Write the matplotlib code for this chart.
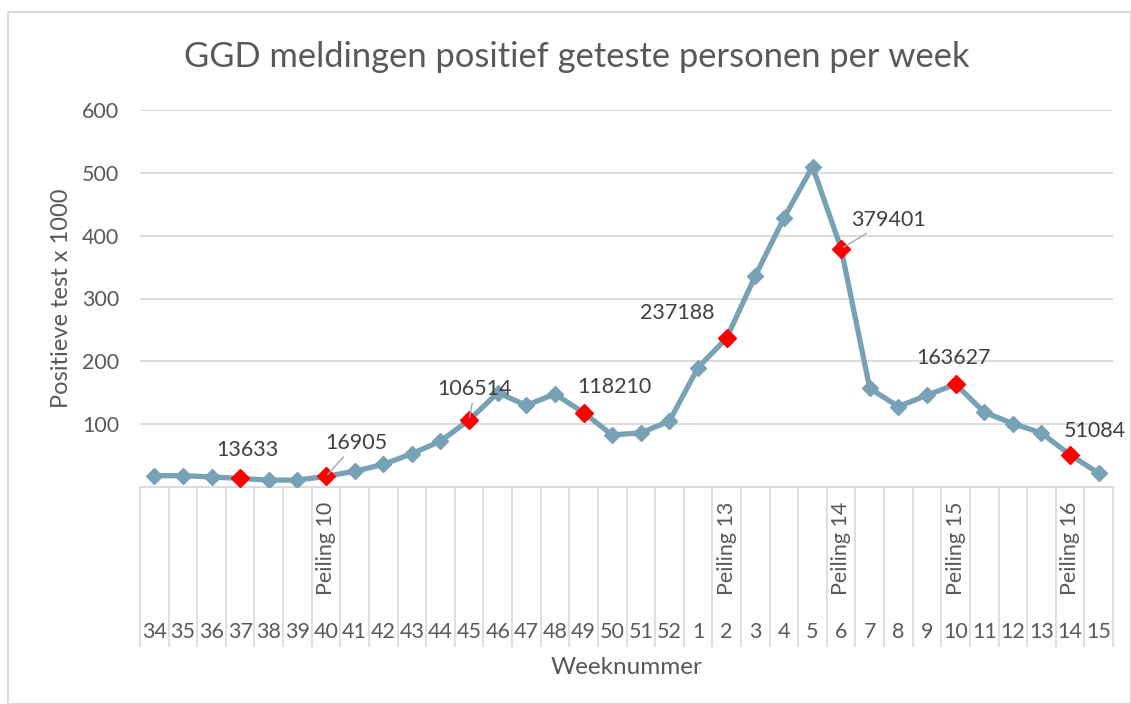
import matplotlib
matplotlib.use("Agg")
import matplotlib.pyplot as plt
from matplotlib.patches import Rectangle

# Week numbers (category axis, bottom level)
weeks = ["34", "35", "36", "37", "38", "39", "40", "41", "42", "43", "44", "45",
         "46", "47", "48", "49", "50", "51", "52", "1", "2", "3", "4", "5", "6",
         "7", "8", "9", "10", "11", "12", "13", "14", "15"]

# Positive tests x 1000
values = [18, 18, 16, 13.633, 11, 11, 16.905, 25, 36, 53, 73, 106.514,
          150, 130, 148, 118.210, 83, 86, 105, 190, 237.188, 336, 428, 510,
          379.401, 157, 128, 146, 163.627, 119, 101, 86, 51.084, 22]

# Highlighted points (index -> label)
highlight_idx = [3, 6, 11, 15, 20, 24, 28, 32]
highlight_lbl = ["13633", "16905", "106514", "118210", "237188", "379401", "163627", "51084"]
# label positions (data coords) and whether a leader line is drawn
label_pos = [(3.27, 59), (7.05, 70), (11.2, 156), (16.07, 159), (18.26, 277),
             (25.67, 425), (27.94, 205), (32.88, 89)]
leader = [False, True, True, False, False, True, False, False]

# Survey markers on upper category level
peiling_idx = [6, 20, 24, 28, 32]
peiling_lbl = ["Peiling 10", "Peiling 13", "Peiling 14", "Peiling 15", "Peiling 16"]

FONT = "Lato"
plt.rcParams["font.family"] = [FONT, "DejaVu Sans"]

line_col = "#77A1B5"
text_col = "#595959"
grid_col = "#D9D9D9"
fs = 15.5

fig = plt.figure(figsize=(11.31, 7.04), dpi=100)
ax = fig.add_axes([140 / 1131, 1 - 487 / 704, 973 / 1131, 377 / 704])

x = list(range(len(weeks)))
ax.plot(x, values, color=line_col, lw=3.8, marker="D", ms=8.5,
        markerfacecolor=line_col, markeredgecolor=line_col, zorder=3)
ax.plot([x[i] for i in highlight_idx], [values[i] for i in highlight_idx],
        ls="none", marker="D", ms=9, color="#FF0000", zorder=4)

for i, lbl, pos, ld in zip(highlight_idx, highlight_lbl, label_pos, leader):
    if ld:
        ax.annotate(lbl, xy=(x[i], values[i]), xytext=pos, ha="center", va="center",
                    fontsize=fs, color="#404040",
                    arrowprops=dict(arrowstyle="-", color="#A6A6A6", lw=1,
                                    shrinkA=1, shrinkB=2), zorder=5)
    else:
        ax.text(pos[0], pos[1], lbl, ha="center", va="center", fontsize=fs,
                color="#404040", zorder=5)

ax.set_xlim(-0.5, len(weeks) - 0.5)
ax.set_ylim(0, 600)
ax.set_yticks([100, 200, 300, 400, 500, 600])
ax.tick_params(axis="y", length=0, labelsize=fs, labelcolor=text_col, pad=15)
ax.set_xticks([])
ax.grid(axis="y", color=grid_col, lw=1.3)
ax.set_axisbelow(True)
for s in ["top", "right", "left"]:
    ax.spines[s].set_visible(False)
ax.spines["bottom"].set_color(grid_col)
ax.spines["bottom"].set_linewidth(1.3)

# multi-level category axis
xt = ax.get_xaxis_transform()
bounds = [i - 0.5 for i in range(len(weeks) + 1)]
ax.vlines(bounds, -0.425, 0, transform=xt, colors=grid_col, lw=1.2, clip_on=False)
for i, w in enumerate(weeks):
    ax.text(i, -0.385, w, transform=xt, ha="center", va="center",
            fontsize=fs, color=text_col)
for i, p in zip(peiling_idx, peiling_lbl):
    ax.text(i, -0.286, p, transform=xt, ha="center", va="bottom", rotation=90,
            fontsize=fs, color=text_col)

fig.text(627 / 1131, 1 - 668 / 704, "Weeknummer", ha="center", va="center",
         fontsize=17.5, color=text_col)
fig.text(62 / 1131, 1 - 298 / 704, "Positieve test x 1000", ha="center", va="center",
         rotation=90, fontsize=17, color=text_col)
fig.text(577 / 1131, 1 - 57 / 704, "GGD meldingen positief geteste personen per week",
         ha="center", va="center", fontsize=24.8, color=text_col)

fig.patches.append(Rectangle((8 / 1131, 0), 1 - 8 / 1131, 1 - 12 / 704,
                             transform=fig.transFigure, fill=False,
                             edgecolor=grid_col, lw=1.5))

fig.savefig("out.png", dpi=100)
